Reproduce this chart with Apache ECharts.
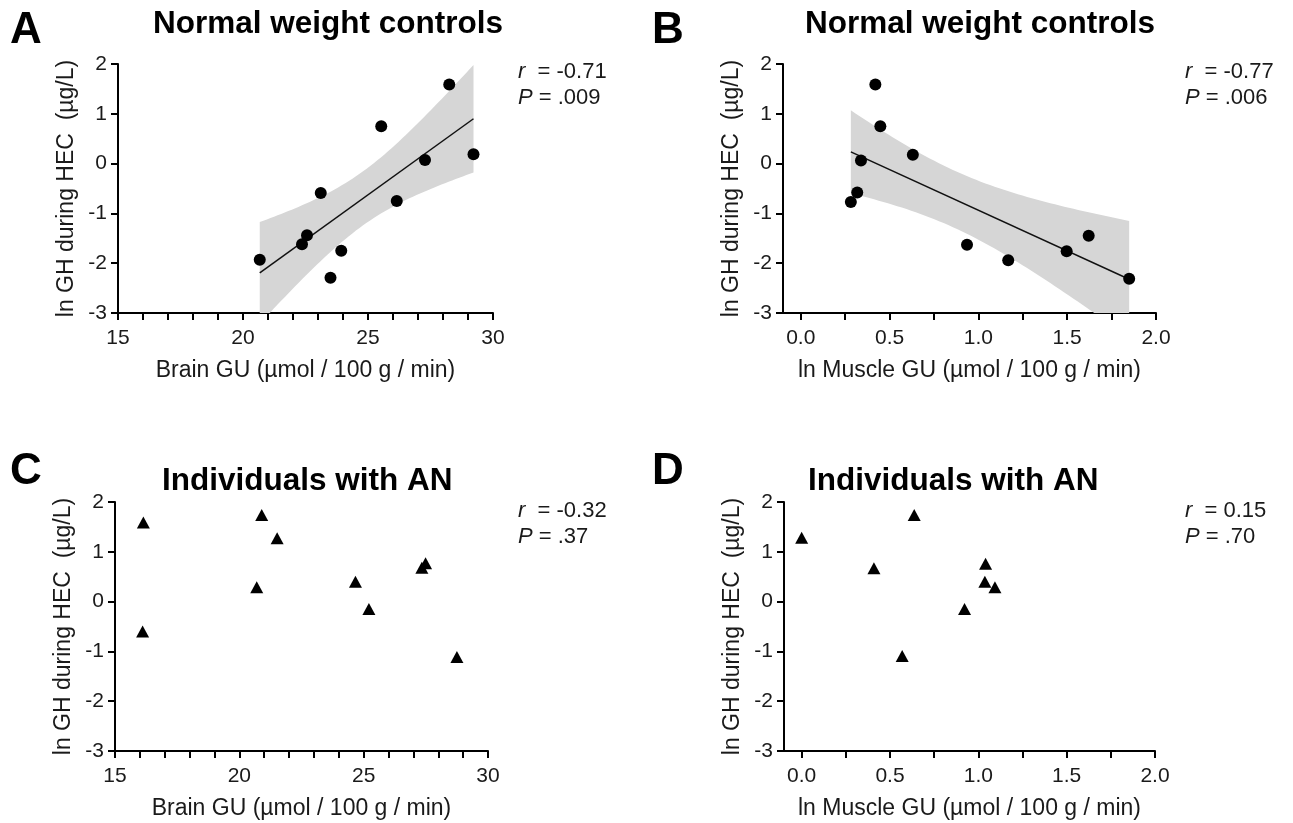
<!DOCTYPE html>
<html>
<head>
<meta charset="utf-8">
<script src="https://cdn.jsdelivr.net/npm/echarts@6/dist/echarts.min.js"></script>
<style>
  html, body { margin: 0; padding: 0; background: #fff; }
  #chart { width: 1293px; height: 823px; }
</style>
</head>
<body>
<div id="chart"></div>
<script>
// normal weight controls
const brainNW = [20.67, 22.36, 22.56, 23.11, 23.5, 23.93, 25.53, 26.15, 27.28, 28.25, 29.22];
const ghNW_A = [-1.93, -1.62, -1.44, -0.59, -2.29, -1.75, 0.75, -0.75, 0.07, 1.59, 0.19];
const muscleNW = [0.282, 0.318, 0.339, 0.42, 0.448, 0.631, 0.936, 1.168, 1.497, 1.621, 1.849];
const ghNW_B = [-0.77, -0.58, 0.06, 1.59, 0.75, 0.18, -1.63, -1.94, -1.76, -1.45, -2.31];
// individuals with AN
const brainAN = [16.14, 16.11, 20.9, 20.7, 21.52, 24.67, 25.21, 27.34, 27.49, 28.75];
const ghAN_C = [1.59, -0.6, 1.74, 0.29, 1.27, 0.4, -0.15, 0.68, 0.77, -1.11];
const muscleAN = [0.0, 0.409, 0.637, 0.569, 0.922, 1.041, 1.037, 1.094];
const ghAN_D = [1.28, 0.67, 1.74, -1.09, -0.15, 0.76, 0.4, 0.29];

// axis ticks
const brainLabels = [15, 20, 25, 30];
const brainTicks = [15, 16, 17, 18, 19, 20, 21, 22, 23, 24, 25, 26, 27, 28, 29, 30];
const muscleLabels = [0, 0.5, 1, 1.5, 2];
const muscleTicks = [0, 0.25, 0.5, 0.75, 1, 1.25, 1.5, 1.75, 2];

// r / P for each panel
const statR = ['-0.71', '-0.77', '-0.32', '0.15'];
const statP = ['.009', '.006', '.37', '.70'];

const tCrit = 2.262; // t(0.975), df = 9

const FONT = '"Liberation Sans", Arial, Helvetica, sans-serif';

function fit(xs, ys) {
  const n = xs.length;
  const mx = xs.reduce((s, v) => s + v, 0) / n;
  const my = ys.reduce((s, v) => s + v, 0) / n;
  let sxx = 0, sxy = 0;
  for (let i = 0; i < n; i++) {
    sxx += (xs[i] - mx) * (xs[i] - mx);
    sxy += (xs[i] - mx) * (ys[i] - my);
  }
  const b = sxy / sxx;
  const a = my - b * mx;
  let sse = 0;
  for (let i = 0; i < n; i++) {
    const r = ys[i] - (a + b * xs[i]);
    sse += r * r;
  }
  const s = Math.sqrt(sse / (n - 2));
  return { n, mx, sxx, a, b, s, x0: Math.min(...xs), x1: Math.max(...xs) };
}

// 95% confidence band of the regression line
function band(f) {
  const pts = [];
  const steps = 60;
  for (let i = 0; i <= steps; i++) {
    const x = f.x0 + (f.x1 - f.x0) * i / steps;
    const yhat = f.a + f.b * x;
    const h = tCrit * f.s * Math.sqrt(1 / f.n + (x - f.mx) * (x - f.mx) / f.sxx);
    pts.push([x, yhat - h, yhat + h]);
  }
  return pts;
}

const fitA = fit(brainNW, ghNW_A);
const fitB = fit(muscleNW, ghNW_B);

const grids = [
  { left: 118, top: 64, width: 375, height: 249 },
  { left: 783, top: 64, width: 373, height: 249 },
  { left: 115, top: 502, width: 373, height: 249 },
  { left: 784, top: 502, width: 371, height: 249 }
];

const tickStyle = { color: '#000', width: 2 };
const labelStyle = { color: '#1a1a1a', fontSize: 21, fontFamily: FONT };
const nameStyle = { color: '#1a1a1a', fontSize: 23, fontFamily: FONT };

function xAxisBrain(i) {
  return {
    type: 'value', gridIndex: i, min: 15, max: 30,
    name: 'Brain GU (µmol / 100 g / min)', nameLocation: 'middle', nameGap: 46,
    nameTextStyle: nameStyle,
    axisLine: { onZero: false, lineStyle: { color: '#000', width: 2 } },
    axisTick: { length: 7, lineStyle: tickStyle, customValues: brainTicks },
    axisLabel: Object.assign({ margin: 15, customValues: brainLabels }, labelStyle),
    splitLine: { show: false }
  };
}
function xAxisMuscle(i) {
  return {
    type: 'value', gridIndex: i, min: -0.1, max: 2,
    name: 'ln Muscle GU (µmol / 100 g / min)', nameLocation: 'middle', nameGap: 46,
    nameTextStyle: nameStyle,
    axisLine: { onZero: false, lineStyle: { color: '#000', width: 2 } },
    axisTick: { length: 7, lineStyle: tickStyle, customValues: muscleTicks },
    axisLabel: Object.assign({ margin: 15, customValues: muscleLabels, formatter: v => v.toFixed(1) }, labelStyle),
    splitLine: { show: false }
  };
}
function yAxisGH(i) {
  return {
    type: 'value', gridIndex: i, min: -3, max: 2, interval: 1,
    name: 'ln GH during HEC  (µg/L)', nameLocation: 'middle', nameGap: 40,
    nameTextStyle: nameStyle,
    axisLine: { onZero: false, lineStyle: { color: '#000', width: 2 } },
    axisTick: { length: 7, lineStyle: tickStyle },
    axisLabel: Object.assign({ margin: 11 }, labelStyle),
    splitLine: { show: false }
  };
}

function bandSeries(i, f) {
  const pts = band(f);
  return {
    type: 'custom', xAxisIndex: i, yAxisIndex: i, clip: true, silent: true, z: 1,
    data: pts,
    encode: { x: 0, y: [1, 2] },
    renderItem: (params, api) => {
      if (params.dataIndex !== 0) return;
      const upper = pts.map(p => api.coord([p[0], p[2]]));
      const lower = pts.map(p => api.coord([p[0], p[1]])).reverse();
      return {
        type: 'polygon',
        shape: { points: upper.concat(lower) },
        style: { fill: '#d6d6d6' }
      };
    }
  };
}
function fitLine(i, f) {
  return {
    type: 'line', xAxisIndex: i, yAxisIndex: i, z: 2, symbol: 'none', silent: true,
    data: [[f.x0, f.a + f.b * f.x0], [f.x1, f.a + f.b * f.x1]],
    lineStyle: { color: '#111', width: 1.5 }
  };
}
function dots(i, xs, ys, symbol, size) {
  return {
    type: 'scatter', xAxisIndex: i, yAxisIndex: i, z: 3,
    symbol: symbol, symbolSize: size,
    itemStyle: { color: '#000', opacity: 1 },
    data: xs.map((x, k) => [x, ys[k]])
  };
}

const panelText = [];
const letters = [['A', 10, 31], ['B', 652, 31], ['C', 10, 472], ['D', 652, 472]];
letters.forEach(l => panelText.push({
  type: 'text', x: l[1], y: l[2],
  style: { text: l[0], font: 'bold 44px ' + FONT, fill: '#000', textVerticalAlign: 'middle' }
}));
const titles = [['Normal weight controls', 153, 24], ['Normal weight controls', 805, 24],
  ['Individuals with AN', 162, 481], ['Individuals with AN', 808, 481]];
titles.forEach(t => panelText.push({
  type: 'text', x: t[1], y: t[2],
  style: { text: t[0], font: 'bold 31.5px ' + FONT, fill: '#000', textVerticalAlign: 'middle' }
}));
const statPos = [[518, 72], [1185, 72], [518, 511], [1185, 511]];
statPos.forEach((p, k) => {
  panelText.push({
    type: 'text', x: p[0], y: p[1],
    style: {
      text: '{i|r}  = ' + statR[k], fill: '#1a1a1a', fontSize: 22, fontFamily: FONT,
      textVerticalAlign: 'middle',
      rich: { i: { fontStyle: 'italic', fontSize: 22, fontFamily: FONT, fill: '#1a1a1a' } }
    }
  });
  panelText.push({
    type: 'text', x: p[0], y: p[1] + 26,
    style: {
      text: '{i|P} = ' + statP[k], fill: '#1a1a1a', fontSize: 22, fontFamily: FONT,
      textVerticalAlign: 'middle',
      rich: { i: { fontStyle: 'italic', fontSize: 22, fontFamily: FONT, fill: '#1a1a1a' } }
    }
  });
});

const chart = echarts.init(document.getElementById('chart'), null, { renderer: 'canvas' });
chart.setOption({
  animation: false,
  backgroundColor: '#fff',
  grid: grids,
  xAxis: [xAxisBrain(0), xAxisMuscle(1), xAxisBrain(2), xAxisMuscle(3)],
  yAxis: [yAxisGH(0), yAxisGH(1), yAxisGH(2), yAxisGH(3)],
  graphic: panelText,
  series: [
    bandSeries(0, fitA), fitLine(0, fitA), dots(0, brainNW, ghNW_A, 'circle', 12),
    bandSeries(1, fitB), fitLine(1, fitB), dots(1, muscleNW, ghNW_B, 'circle', 12),
    dots(2, brainAN, ghAN_C, 'triangle', [13, 12]),
    dots(3, muscleAN, ghAN_D, 'triangle', [13, 12])
  ]
});
</script>
</body>
</html>
